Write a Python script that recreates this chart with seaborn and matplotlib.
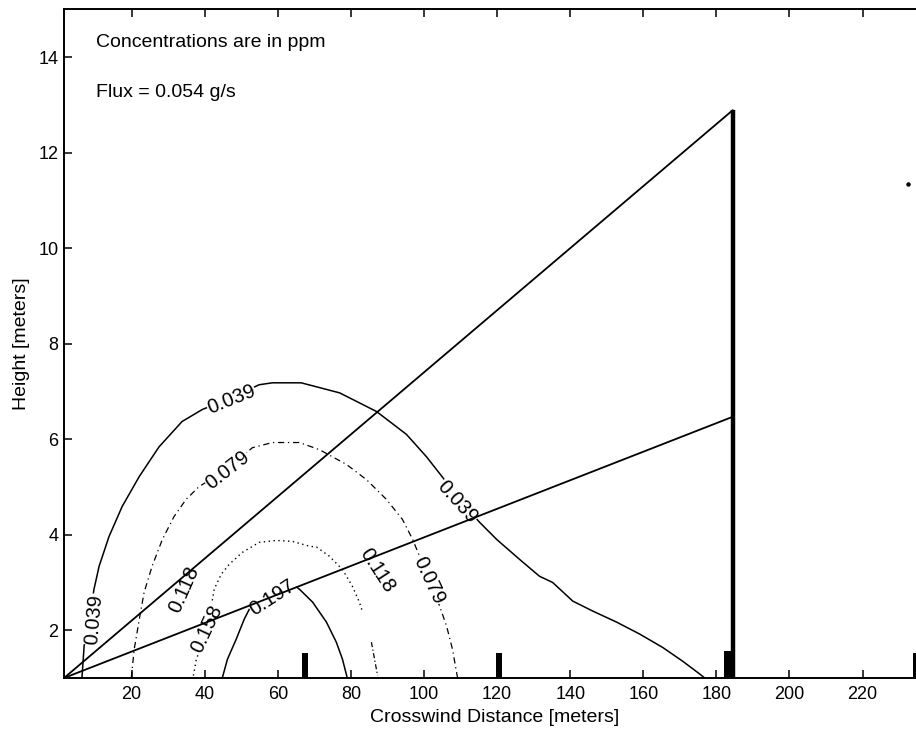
import matplotlib
matplotlib.use("Agg")
import matplotlib.pyplot as plt
import seaborn as sns
import pandas as pd

# concentration contours (x = crosswind m, y = height m)
c039_x = [6.4, 7.0, 8.4, 9.7, 11.1, 13.8, 17.4, 22.1, 27.5, 33.8, 39.3, 47.3, 54.9, 58.5,
          66.4, 76.9, 87.0, 95.2, 100.7, 105.1, 109.7, 115.2, 119.9, 126.2, 131.6, 135.2,
          140.7, 146.2, 152.7, 159.0, 165.3, 170.8, 175.5, 176.8]
c039_y = [1.0, 1.67, 2.23, 2.86, 3.34, 3.96, 4.59, 5.22, 5.84, 6.37, 6.62, 6.87, 7.14, 7.18,
          7.18, 6.97, 6.58, 6.10, 5.63, 5.20, 4.74, 4.26, 3.90, 3.48, 3.13, 3.00,
          2.61, 2.40, 2.17, 1.92, 1.64, 1.35, 1.08, 1.0]

c079_x = [19.9, 20.7, 22.1, 23.4, 25.6, 28.4, 31.6, 34.9, 38.5, 46.2, 53.0, 58.5, 65.9,
          71.4, 78.8, 84.3, 89.7, 94.1, 96.9, 101.5, 104.3, 106.2, 107.8, 108.9, 109.2]
c079_y = [1.0, 1.60, 2.23, 2.79, 3.34, 3.90, 4.38, 4.74, 5.01, 5.37, 5.82, 5.93, 5.93,
          5.78, 5.47, 5.15, 4.74, 4.32, 3.90, 3.04, 2.50, 2.08, 1.60, 1.12, 1.0]

inner_x = [36.9, 37.7, 40.7, 42.6, 44.5, 46.7, 50.3, 54.9, 59.6, 64.0, 68.6, 70.6, 74.1,
           77.7, 80.4, 82.3, 83.2]
inner_y = [1.05, 1.39, 2.02, 2.86, 3.17, 3.38, 3.63, 3.84, 3.88, 3.86, 3.76, 3.74, 3.55,
           3.27, 2.92, 2.59, 2.38]
tail_x = [85.6, 87.3]
tail_y = [1.75, 1.05]

c197_x = [44.8, 46.2, 48.6, 50.8, 52.2, 55.5, 60.4, 65.1, 65.9, 69.5, 73.3, 76.0, 77.7, 79.0]
c197_y = [1.0, 1.39, 1.81, 2.23, 2.44, 2.75, 2.90, 2.90, 2.86, 2.59, 2.17, 1.75, 1.39, 1.0]

# contour labels: text, x, y, angle
lab_text = ["0.039", "0.039", "0.039", "0.079", "0.079", "0.118", "0.158", "0.197", "0.118"]
lab_x = [9.7, 47.3, 109.2, 46.2, 101.2, 34.4, 40.7, 58.5, 87.3]
lab_y = [2.23, 6.83, 4.69, 5.36, 3.04, 2.85, 2.02, 2.69, 3.25]
lab_rot = [85, 22, -48, 38, -65, 66, 65, 33, -57]

# sight lines and wall
ray_x = [1.5, 184.5]
ray_hi = [1.0, 12.89]
ray_lo = [1.0, 6.47]
wall_x = 184.5
wall_top = 12.89

# short markers along the ground
mark_x = [67.4, 120.6, 183.3, 234.5]
mark_top = [1.52, 1.52, 1.56, 1.52]

dot_x, dot_y = 232.5, 11.34

sns.set_theme(style="ticks")
plt.rcParams["font.family"] = ["Liberation Sans", "DejaVu Sans"]
plt.rcParams["text.color"] = "black"
plt.rcParams["axes.labelcolor"] = "black"

fig = plt.figure(figsize=(9.16, 7.34), dpi=100)
ax = fig.add_axes([0.0699, 0.0763, 0.940, 0.911])

def draw(xs, ys, ls, lw=1.1):
    df = pd.DataFrame({"x": xs, "y": ys})
    sns.lineplot(data=df, x="x", y="y", sort=False, estimator=None, ax=ax,
                 color="black", linewidth=lw, linestyle=ls, zorder=1)

draw(c039_x, c039_y, "-")
draw(c079_x, c079_y, (0, (5, 3, 1, 3)), 0.9)
draw(inner_x, inner_y, (0, (1, 2.5)), 1.0)
draw(tail_x, tail_y, (0, (4, 2, 1, 2)), 0.9)
draw(c197_x, c197_y, "-")

for t, x, y, r in zip(lab_text, lab_x, lab_y, lab_rot):
    ax.text(x, y, t, rotation=r, ha="center", va="center", fontsize=14.5,
            rotation_mode="anchor", zorder=2,
            bbox=dict(fc="white", ec="none", pad=0.3))

for ys in (ray_hi, ray_lo):
    ax.plot(ray_x, ys, color="black", lw=1.3, zorder=3)
ax.plot([wall_x, wall_x], [1.0, wall_top], color="black", lw=3.2, zorder=3,
        solid_capstyle="butt")

widths = [1.6, 1.6, 2.5, 1.6]
for x, top, w in zip(mark_x, mark_top, widths):
    ax.bar(x, top - 1.0, bottom=1.0, width=w, color="black", linewidth=0, zorder=3)

ax.plot([dot_x], [dot_y], "o", color="black", ms=2.2, zorder=3)

ax.text(10.3, 14.31, "Concentrations are in ppm", fontsize=14, va="center")
ax.text(10.3, 13.26, "Flux = 0.054 g/s", fontsize=14, va="center")

ax.set_xlim(1.5, 237.1)
ax.set_ylim(1, 15)
ax.set_xticks(range(20, 221, 20))
ax.set_yticks(range(2, 15, 2))
ax.tick_params(direction="in", length=6, width=1.1, labelsize=13, colors="black",
               top=True, right=True)
ax.tick_params(axis="x", pad=6)
ax.tick_params(axis="y", pad=4)
for s in ax.spines.values():
    s.set_linewidth(1.4)
    s.set_color("black")
ax.set_xlabel("Crosswind Distance [meters]", fontsize=14, labelpad=4)
ax.set_ylabel("Height [meters]", fontsize=14, labelpad=6)

fig.savefig("out.png", dpi=100)
